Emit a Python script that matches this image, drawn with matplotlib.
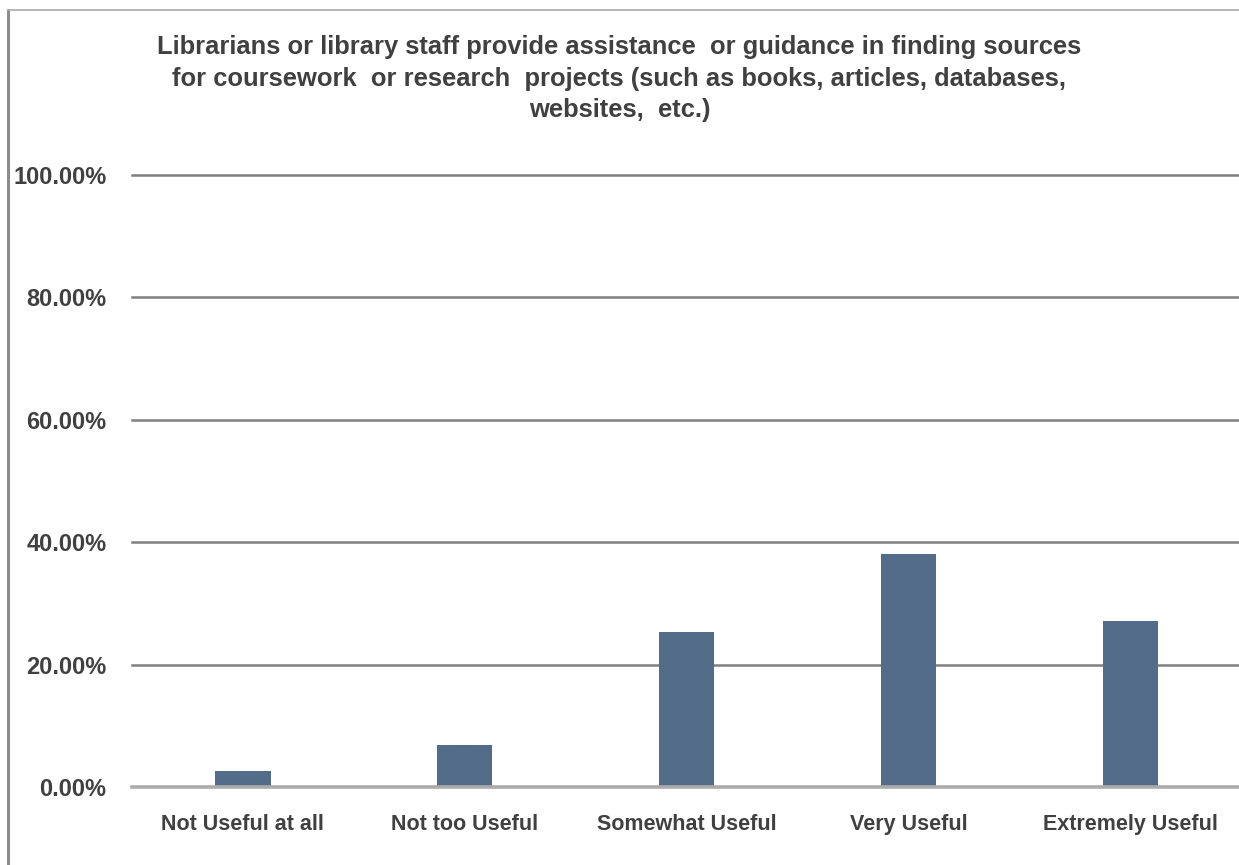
import matplotlib.pyplot as plt
from matplotlib.lines import Line2D

# survey answers and share of respondents (%)
categories = ["Not Useful at all", "Not too Useful", "Somewhat Useful",
              "Very Useful", "Extremely Useful"]
values = [2.6, 6.9, 25.3, 38.0, 27.2]
yticks = [0, 20, 40, 60, 80, 100]

title = ("Librarians or library staff provide assistance  or guidance in finding sources\n"
         "for coursework  or research  projects (such as books, articles, databases,\n"
         "websites,  etc.)")

plt.rcParams['font.family'] = ['Liberation Sans', 'DejaVu Sans']
txt = '#404040'

fig = plt.figure(figsize=(12.39, 8.65), dpi=100)
ax = fig.add_axes([132 / 1239, 78 / 865, 1 - 132 / 1239, 612 / 865])

x = range(len(categories))
ax.bar(x, values, width=0.25, color='#536c89', zorder=3)

ax.set_xlim(-0.5, 4.49)
ax.set_ylim(0, 100)
ax.set_yticks(yticks)
ax.set_yticklabels([f"{v:.2f}%" for v in yticks], fontsize=17,
                   fontweight='bold', color=txt)
ax.set_xticks(list(x))
ax.set_xticklabels(categories, fontsize=15.5, fontweight='bold', color=txt)
ax.tick_params(length=0)
ax.tick_params(axis='y', pad=18.5)
ax.tick_params(axis='x', pad=19.5)

# gridlines
for v in yticks[1:]:
    ax.axhline(v, color='#7f7f7f', lw=1.8, zorder=1, clip_on=False)
ax.axhline(0, color='#ababab', lw=2.6, zorder=4, clip_on=False)

for s in ax.spines.values():
    s.set_visible(False)

fig.text(0.5, 0.909, title, ha='center', va='center', fontsize=18.4,
         fontweight='bold', color=txt, linespacing=1.38)

# outer frame (left and top edges only visible)
fig.add_artist(Line2D([7.5 / 1239, 7.5 / 1239], [0, 1 - 10 / 865],
                      color='#8c8c8c', lw=2.2, transform=fig.transFigure))
fig.add_artist(Line2D([7.5 / 1239, 1], [1 - 10 / 865, 1 - 10 / 865],
                      color='#b0b0b0', lw=1.3, transform=fig.transFigure))

fig.savefig('out.png', dpi=100)
